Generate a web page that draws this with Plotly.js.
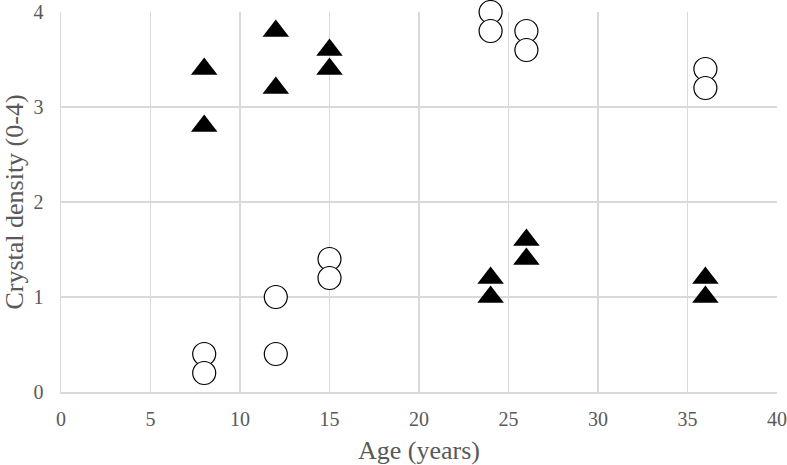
<!DOCTYPE html>
<html>
<head>
<script src="https://cdn.plot.ly/plotly-3.0.1.min.js"></script>
<style>html,body{margin:0;padding:0;background:#fff}#chart{width:787px;height:465px}</style>
</head>
<body>
<div id="chart"></div>
<script>
// Filled triangles series
const triAge = [8, 8, 12, 12, 15, 15, 24, 24, 26, 26, 36, 36];
const triDensity = [3.4, 2.8, 3.8, 3.2, 3.6, 3.4, 1.2, 1.0, 1.6, 1.4, 1.2, 1.0];
// Open circles series
const circAge = [8, 8, 12, 12, 15, 15, 24, 24, 26, 26, 36, 36];
const circDensity = [0.4, 0.2, 1.0, 0.4, 1.4, 1.2, 4.0, 3.8, 3.8, 3.6, 3.4, 3.2];
const xTicks = [0, 5, 10, 15, 20, 25, 30, 35, 40];
const yTicks = [0, 1, 2, 3, 4];

const FAM = 'Liberation Serif';
const data = [
  {x: circAge, y: circDensity, type: 'scatter', mode: 'markers', cliponaxis: false,
   marker: {symbol: 'circle', size: 23, color: '#ffffff', line: {color: '#000000', width: 1.2}}},
  {x: triAge, y: triDensity, type: 'scatter', mode: 'markers', cliponaxis: false,
   marker: {symbol: 'triangle-up', size: 23, color: '#000000', line: {width: 0}}}
];
const layout = {
  width: 787, height: 465,
  margin: {l: 61, r: 10, t: 12, b: 73},
  paper_bgcolor: '#ffffff', plot_bgcolor: '#ffffff',
  showlegend: false,
  font: {family: FAM, color: '#595959', size: 20},
  xaxis: {range: [0, 40], tickmode: 'array', tickvals: xTicks, ticktext: xTicks.map(String),
    showgrid: true, gridcolor: '#d9d9d9', gridwidth: 1.5, zeroline: false,
    showline: true, linecolor: '#d9d9d9', linewidth: 1.5,
    ticks: 'outside', ticklen: 8, tickcolor: 'rgba(0,0,0,0)',
    tickfont: {size: 20, family: FAM, color: '#595959'},
    title: {text: 'Age (years)', font: {size: 26, family: FAM, color: '#595959'}, standoff: 16}},
  yaxis: {range: [0, 4], tickmode: 'array', tickvals: yTicks, ticktext: yTicks.map(String),
    showgrid: true, gridcolor: '#d9d9d9', gridwidth: 1.5, zeroline: false,
    showline: true, linecolor: '#d9d9d9', linewidth: 1.5,
    ticks: 'outside', ticklen: 12, tickcolor: 'rgba(0,0,0,0)',
    tickfont: {size: 20, family: FAM, color: '#595959'},
    title: {text: 'Crystal density (0-4)', font: {size: 26, family: FAM, color: '#595959'}, standoff: 6}}
};
Plotly.newPlot('chart', data, layout, {displayModeBar: false, staticPlot: true});
</script>
</body>
</html>
